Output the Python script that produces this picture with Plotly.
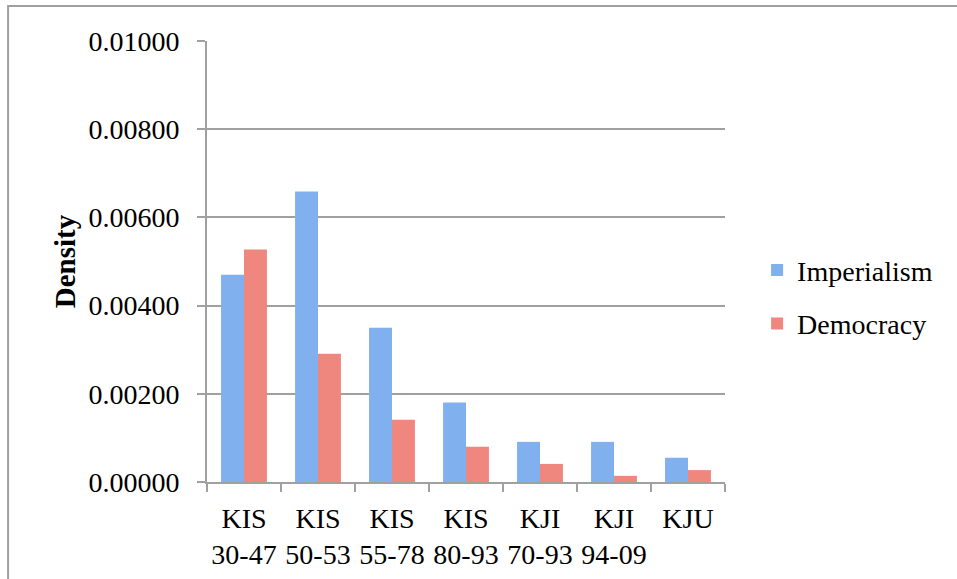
import plotly.graph_objects as go

# Categories (leader / period) and density values per theme
categories = ["KIS<br>30-47", "KIS<br>50-53", "KIS<br>55-78", "KIS<br>80-93",
              "KJI<br>70-93", "KJI<br>94-09", "KJU"]
imperialism = [0.00470, 0.00659, 0.00350, 0.00180, 0.00091, 0.00091, 0.00055]
democracy = [0.00527, 0.00291, 0.00141, 0.00080, 0.00041, 0.00014, 0.00027]
y_ticks = [0.0, 0.002, 0.004, 0.006, 0.008, 0.010]

FONT = "Liberation Serif"
SIZE = 28
GRID = "#a0a0a0"

fig = go.Figure()
fig.add_trace(go.Bar(name="Imperialism", x=categories, y=imperialism,
                     marker=dict(color="#80b1ee", line=dict(width=0)),
                     legendgroup="a"))
fig.add_trace(go.Bar(name="Democracy", x=categories, y=democracy,
                     marker=dict(color="#f0877f", line=dict(width=0)),
                     legendgroup="b"))

# Outer chart frame (left and top edges)
fig.add_shape(type="path", xref="paper", yref="paper",
              path="M -0.384 -0.3 L -0.384 1.0794 L 1.5 1.0794",
              line=dict(color=GRID, width=2))

fig.update_layout(
    width=957, height=579,
    margin=dict(l=207, r=232, t=41, b=97, autoexpand=False),
    paper_bgcolor="white", plot_bgcolor="white",
    font=dict(family=FONT, size=SIZE, color="black"),
    barmode="group", bargap=0.38, bargroupgap=0,
    showlegend=True,
    legend=dict(x=1.062, y=0.42, xanchor="left", yanchor="middle",
                font=dict(family=FONT, size=SIZE), tracegroupgap=14,
                traceorder="grouped", bgcolor="rgba(0,0,0,0)"),
    xaxis=dict(type="category", showgrid=False, showline=True,
               linecolor=GRID, linewidth=2, ticks="outside",
               tickson="boundaries", ticklen=8, tickwidth=2, tickcolor=GRID,
               tickangle=0, automargin=False,
               ticklabelstandoff=10, tickfont=dict(family=FONT, size=SIZE)),
    yaxis=dict(range=[0, 0.0100], tickvals=y_ticks, tickformat=".5f",
               showgrid=True, gridcolor=GRID, gridwidth=2,
               showline=True, linecolor=GRID, linewidth=2,
               ticks="outside", ticklen=8, tickwidth=2, tickcolor=GRID,
               ticklabelstandoff=12, zeroline=False, automargin=False,
               tickfont=dict(family=FONT, size=SIZE),
               title=dict(text="<b>Density</b>", standoff=4,
                          font=dict(family=FONT, size=29))),
)

fig.write_html("out.html")
